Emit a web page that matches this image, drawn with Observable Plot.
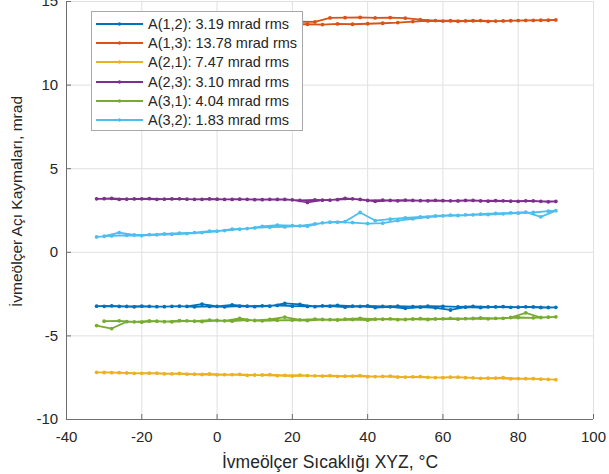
<!DOCTYPE html>
<html>
<head>
<meta charset="utf-8">
<script src="https://cdn.jsdelivr.net/npm/d3@7"></script>
<script src="https://cdn.jsdelivr.net/npm/@observablehq/plot@0.6"></script>
<style>
  html, body { margin: 0; padding: 0; background: #fff; }
  #wrap { position: relative; width: 609px; height: 474px; font-family: "Liberation Sans", Arial, Helvetica, sans-serif; }
  #legend {
    position: absolute; left: 91px; top: 11px; width: 212px; height: 120px;
    box-sizing: border-box; border: 1px solid #a8a8a8; background: #fff;
    padding-top: 2px; color: #262626; font-size: 14.5px;
  }
  .row { display: flex; align-items: center; height: 19.3px; }
  .row svg { margin-left: 4px; flex: none; }
  .row span { margin-left: 5px; white-space: nowrap; }
</style>
</head>
<body>
<div id="wrap"></div>
<script>
// Axis tick values
const xTicks = [-40, -20, 0, 20, 40, 60, 80, 100];
const yTicks = [-10, -5, 0, 5, 10, 15];

// Misalignment channels, their rms values and line colours
const names = ["A(1,2)", "A(1,3)", "A(2,1)", "A(2,3)", "A(3,1)", "A(3,2)"];
const rms = [3.19, 13.78, 7.47, 3.10, 4.04, 1.83];
const colors = ["#0072BD", "#D95319", "#EDB120", "#7E2F8E", "#77AC30", "#4DBEEE"];

// Temperature steps of the heating run and the cooling run, °C
const heatT = [-32, -28, -24, -20, -16, -12, -8, -4, 0, 4, 8, 12, 16, 20, 24, 28, 32, 36, 40, 44, 48, 52, 56, 60, 64, 68, 72, 76, 80, 84, 88];
const coolT = [90, 86, 82, 78, 74, 70, 66, 62, 58, 54, 50, 46, 42, 38, 34, 30, 26, 22, 18, 14, 10, 6, 2, -2, -6, -10, -14, -18, -22, -26, -30];

// Misalignment angles, mrad
const a12Heat = [-3.22, -3.20, -3.24, -3.22, -3.25, -3.23, -3.24, -3.10, -3.23, -3.15, -3.22, -3.20, -3.18, -3.22, -3.24, -3.20, -3.18, -3.22, -3.20, -3.24, -3.22, -3.25, -3.22, -3.24, -3.26, -3.24, -3.27, -3.25, -3.28, -3.27, -3.30];
const a12Cool = [-3.29, -3.30, -3.26, -3.29, -3.27, -3.30, -3.28, -3.45, -3.32, -3.28, -3.35, -3.26, -3.30, -3.24, -3.28, -3.22, -3.25, -3.12, -3.06, -3.22, -3.25, -3.22, -3.26, -3.24, -3.26, -3.22, -3.25, -3.23, -3.26, -3.24, -3.23];

const a13Heat = [13.62, 13.64, 13.60, 13.63, 13.65, 13.62, 13.64, 13.63, 13.65, 13.62, 13.64, 13.66, 13.63, 13.65, 13.64, 13.62, 13.66, 13.64, 13.67, 13.70, 13.74, 13.80, 13.84, 13.83, 13.82, 13.85, 13.81, 13.84, 13.86, 13.87, 13.88];
const a13Cool = [13.90, 13.88, 13.87, 13.85, 13.83, 13.86, 13.84, 13.85, 13.86, 13.92, 14.00, 14.04, 14.02, 14.05, 14.03, 14.02, 13.78, 13.80, 13.76, 13.78, 13.75, 13.77, 13.74, 13.76, 13.73, 13.75, 13.72, 13.74, 13.71, 13.73, 13.70];

const a21Heat = [-7.18, -7.20, -7.22, -7.24, -7.23, -7.27, -7.29, -7.31, -7.33, -7.32, -7.36, -7.34, -7.38, -7.40, -7.37, -7.40, -7.42, -7.40, -7.44, -7.42, -7.46, -7.45, -7.48, -7.50, -7.47, -7.51, -7.53, -7.50, -7.55, -7.56, -7.60];
const a21Cool = [-7.62, -7.59, -7.56, -7.57, -7.52, -7.54, -7.50, -7.47, -7.49, -7.44, -7.46, -7.40, -7.43, -7.38, -7.41, -7.37, -7.39, -7.35, -7.36, -7.32, -7.34, -7.30, -7.32, -7.28, -7.29, -7.25, -7.27, -7.23, -7.24, -7.20, -7.19];

const a23Heat = [3.20, 3.22, 3.18, 3.20, 3.17, 3.19, 3.18, 3.17, 3.18, 3.16, 3.17, 3.15, 3.16, 3.14, 2.98, 3.12, 3.15, 3.20, 3.10, 3.12, 3.08, 3.10, 3.08, 3.09, 3.07, 3.10, 3.06, 3.08, 3.05, 3.07, 3.02];
const a23Cool = [3.04, 3.05, 3.08, 3.06, 3.09, 3.07, 3.10, 3.08, 3.11, 3.09, 3.12, 3.10, 3.05, 3.16, 3.22, 3.12, 3.14, 3.10, 3.16, 3.17, 3.15, 3.18, 3.16, 3.19, 3.17, 3.20, 3.18, 3.21, 3.19, 3.17, 3.21];

const a31Heat = [-4.38, -4.56, -4.15, -4.18, -4.12, -4.16, -4.10, -4.14, -4.08, -4.12, -4.06, -4.10, -4.07, -4.05, -4.08, -4.02, -4.05, -4.02, -4.06, -4.00, -4.03, -3.99, -4.02, -3.98, -4.00, -3.96, -3.98, -3.95, -3.90, -3.92, -3.88];
const a31Cool = [-3.86, -3.90, -3.62, -3.90, -3.95, -3.93, -3.97, -3.95, -3.99, -3.97, -4.02, -3.98, -4.00, -3.95, -4.00, -4.03, -4.00, -4.04, -3.88, -4.02, -4.08, -3.96, -4.10, -4.06, -4.12, -4.09, -4.15, -4.11, -4.16, -4.10, -4.12];

const a32Heat = [0.92, 0.98, 1.02, 1.00, 1.05, 1.08, 1.12, 1.18, 1.26, 1.38, 1.42, 1.55, 1.62, 1.60, 1.56, 1.76, 1.80, 1.78, 1.72, 1.74, 1.90, 2.00, 2.10, 2.18, 2.20, 2.24, 2.26, 2.30, 2.34, 2.38, 2.46];
const a32Cool = [2.49, 2.12, 2.40, 2.36, 2.32, 2.28, 2.24, 2.22, 2.17, 2.12, 2.06, 1.98, 1.90, 2.38, 1.84, 1.80, 1.70, 1.58, 1.52, 1.50, 1.46, 1.38, 1.30, 1.26, 1.18, 1.14, 1.10, 1.06, 1.04, 1.18, 0.96];

const heats = [a12Heat, a13Heat, a21Heat, a23Heat, a31Heat, a32Heat];
const cools = [a12Cool, a13Cool, a21Cool, a23Cool, a31Cool, a32Cool];

// One continuous path per channel: heating run, then cooling run
const rows = names.flatMap((name, k) => [
  ...heatT.map((t, i) => ({name, t, v: heats[k][i]})),
  ...coolT.map((t, i) => ({name, t, v: cools[k][i]}))
]);

const axisColor = "#6e6e6e";
const gridColor = "#e0e0e0";
const plainNumber = (d) => String(d);

const seriesMarks = names.flatMap((name) => {
  const data = rows.filter((d) => d.name === name);
  return [
    Plot.line(data, {x: "t", y: "v", stroke: "name", strokeWidth: 1.8}),
    Plot.dot(data, {x: "t", y: "v", fill: "name", r: 1.9})
  ];
});

const chart = Plot.plot({
  width: 609,
  height: 474,
  marginLeft: 66,
  marginRight: 16,
  marginTop: 1,
  marginBottom: 55,
  style: {
    fontFamily: "'Liberation Sans', Arial, Helvetica, sans-serif",
    fontSize: "15px",
    color: "#262626",
    background: "transparent",
    overflow: "visible"
  },
  x: {domain: [-40, 100]},
  y: {domain: [-10, 15]},
  color: {domain: names, range: colors},
  marks: [
    Plot.gridX(xTicks, {stroke: gridColor, strokeOpacity: 1}),
    Plot.gridY(yTicks, {stroke: gridColor, strokeOpacity: 1}),
    ...seriesMarks,
    Plot.ruleX([-40], {stroke: axisColor}),
    Plot.ruleY([-10], {stroke: axisColor}),
    Plot.axisX(xTicks, {tickSize: -5, tickPadding: 16.5, stroke: axisColor, fill: "#262626", label: null, fontSize: 15, tickFormat: plainNumber}),
    Plot.axisY(yTicks, {tickSize: -5, tickPadding: 13.3, stroke: axisColor, fill: "#262626", label: null, fontSize: 15, tickFormat: plainNumber}),
    Plot.text(["İvmeölçer Sıcaklığı XYZ, °C"], {
      frameAnchor: "bottom", dy: 48, lineAnchor: "bottom", textAnchor: "middle",
      fontSize: 17.5, fill: "#262626"
    }),
    Plot.text(["İvmeölçer Açı Kaymaları, mrad"], {
      frameAnchor: "left", dx: -44.5, dy: -9, rotate: -90, lineAnchor: "bottom", textAnchor: "middle",
      fontSize: 15.5, fill: "#262626"
    })
  ]
});

const wrap = d3.select("#wrap");
wrap.node().appendChild(chart);
d3.select(chart).style("position", "absolute").style("left", "0px").style("top", "0px");

// Legend box inside the axes, upper left
const legend = wrap.append("div").attr("id", "legend");
names.forEach((name, k) => {
  const row = legend.append("div").attr("class", "row");
  const sw = row.append("svg").attr("width", 47).attr("height", 8);
  sw.append("line").attr("x1", 0).attr("x2", 47).attr("y1", 4).attr("y2", 4)
    .attr("stroke", colors[k]).attr("stroke-width", 2);
  sw.append("circle").attr("cx", 23.5).attr("cy", 4).attr("r", 1.7).attr("fill", colors[k]);
  row.append("span").text(`${name}: ${rms[k].toFixed(2)} mrad rms`);
});
</script>
</body>
</html>
